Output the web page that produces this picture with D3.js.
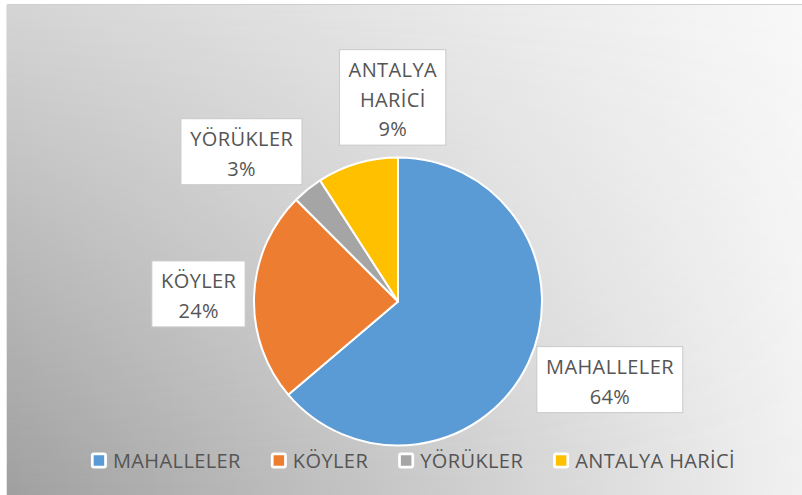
<!DOCTYPE html>
<html>
<head>
<meta charset="utf-8">
<script src="https://cdn.jsdelivr.net/npm/d3@7"></script>
<style>
  body { margin: 0; background: #fff; }
  svg { display: block; }
</style>
</head>
<body>
<div id="chart"></div>
<script>
// pie data (Excel style pie, percentages rounded)
const categories = ["MAHALLELER", "KÖYLER", "YÖRÜKLER", "ANTALYA HARİCİ"];
const labelLines = [["MAHALLELER"], ["KÖYLER"], ["YÖRÜKLER"], ["ANTALYA", "HARİCİ"]];
const shares = [63.8, 23.7, 3.4, 9.1];
const colors = ["#5B9BD5", "#ED7D31", "#A5A5A5", "#FFC000"];

// label box nudges (Excel moved some labels around)
const labelNudge = [[0, 0], [0, 0], [0, -5], [91, -11.5]];

const width = 802, height = 495;
const cx = 398, cy = 301.5, radius = 144;
const font = "'Open Sans', sans-serif";
const fontSize = 20;
const spacing = 0.4;
const capH = fontSize * 0.714;
const lineH = 29.5;
const textColor = "#555555";

const svg = d3.select("#chart").append("svg")
    .attr("width", width)
    .attr("height", height);

// background: bilinear gray -> white gradient
const defs = svg.append("defs");
function hGrad(id, c0, c1) {
    const g = defs.append("linearGradient").attr("id", id)
        .attr("x1", 0).attr("x2", 1).attr("y1", 0).attr("y2", 0);
    g.append("stop").attr("offset", 0).attr("stop-color", c0);
    g.append("stop").attr("offset", 1).attr("stop-color", c1);
}
hGrad("gBot", "#a0a0a0", "#f1f1f1");
hGrad("gTop", "#d4d4d4", "#f8f8f8");
const vg = defs.append("linearGradient").attr("id", "vFade")
    .attr("x1", 0).attr("x2", 0).attr("y1", 0).attr("y2", 1);
vg.append("stop").attr("offset", 0).attr("stop-color", "#fff");
vg.append("stop").attr("offset", 1).attr("stop-color", "#000");
defs.append("mask").attr("id", "fade")
    .append("rect").attr("x", 7).attr("y", 5).attr("width", width - 7).attr("height", height - 5)
    .attr("fill", "url(#vFade)");

svg.append("rect").attr("x", 7).attr("y", 5).attr("width", width - 7).attr("height", height - 5)
    .attr("fill", "url(#gBot)");
svg.append("rect").attr("x", 7).attr("y", 5).attr("width", width - 7).attr("height", height - 5)
    .attr("fill", "url(#gTop)").attr("mask", "url(#fade)");
svg.append("line").attr("x1", 7).attr("x2", width).attr("y1", 4.5).attr("y2", 4.5)
    .attr("stroke", "#cfcfcf");
svg.append("line").attr("x1", 6.5).attr("x2", 6.5).attr("y1", 5).attr("y2", height)
    .attr("stroke", "#e6e6e6");

// pie
const pie = d3.pie().sort(null).value(d => d);
const arcs = pie(shares);
const total = d3.sum(shares);
const arc = d3.arc().innerRadius(0).outerRadius(radius);

const g = svg.append("g").attr("transform", `translate(${cx},${cy})`);
g.selectAll("path.slice")
    .data(arcs)
    .join("path")
    .attr("class", "slice")
    .attr("d", arc)
    .attr("fill", (d, i) => colors[i])
    .attr("stroke", "#fff")
    .attr("stroke-width", 2)
    .attr("stroke-linejoin", "round");

// data labels: white boxes outside the slices
const labels = svg.append("g");
arcs.forEach((d, i) => {
    const mid = (d.startAngle + d.endAngle) / 2;
    const dirX = Math.sin(mid), dirY = -Math.cos(mid);
    const ax = cx + dirX * (radius + 9), ay = cy + dirY * (radius + 9);
    const lines = labelLines[i].concat([Math.round(shares[i] / total * 100) + "%"]);

    const lg = labels.append("g");
    const box = lg.append("rect");
    const texts = lg.selectAll("text")
        .data(lines)
        .join("text")
        .attr("font-family", font)
        .attr("font-size", fontSize)
        .attr("letter-spacing", spacing)
        .attr("fill", textColor)
        .attr("text-anchor", "middle")
        .text(t => t);
    const tw = d3.max(texts.nodes(), n => n.getComputedTextLength());
    const w = tw + 18, h = lines.length * lineH + 7;
    const bx = ax + Math.sign(dirX) * w / 2 + labelNudge[i][0];
    const by = ay + dirY * h / 2 + labelNudge[i][1];

    box.attr("x", bx - w / 2).attr("y", by - h / 2)
        .attr("width", w).attr("height", h)
        .attr("fill", "#fff")
        .attr("stroke", "#c9c9c9")
        .attr("stroke-width", 1);
    texts.attr("x", bx + spacing / 2)
        .attr("y", (t, k) => by + 2 + (k - (lines.length - 1) / 2) * lineH + capH / 2);
});

// legend
const legendY = 460.5;
const legend = svg.append("g");
const items = legend.selectAll("g")
    .data(categories)
    .join("g");
items.append("rect")
    .attr("x", -8).attr("y", -8).attr("width", 16).attr("height", 16)
    .attr("rx", 3).attr("fill", "#fff");
items.append("rect")
    .attr("x", -5.25).attr("y", -5.25).attr("width", 10.5).attr("height", 10.5)
    .attr("fill", (d, i) => colors[i]);
items.append("text")
    .attr("x", 14)
    .attr("y", capH / 2)
    .attr("font-family", font)
    .attr("font-size", fontSize)
    .attr("letter-spacing", spacing)
    .attr("fill", textColor)
    .text(d => d);

const widths = items.nodes().map(n => d3.select(n).select("text").node().getComputedTextLength());
const itemW = widths.map(w => 16 + 6 + w);
const gap = 30;
const totalW = d3.sum(itemW) + gap * (itemW.length - 1);
let x = 413 - totalW / 2;
items.each(function(d, i) {
    d3.select(this).attr("transform", `translate(${x + 8},${legendY})`);
    x += itemW[i] + gap;
});
</script>
</body>
</html>
